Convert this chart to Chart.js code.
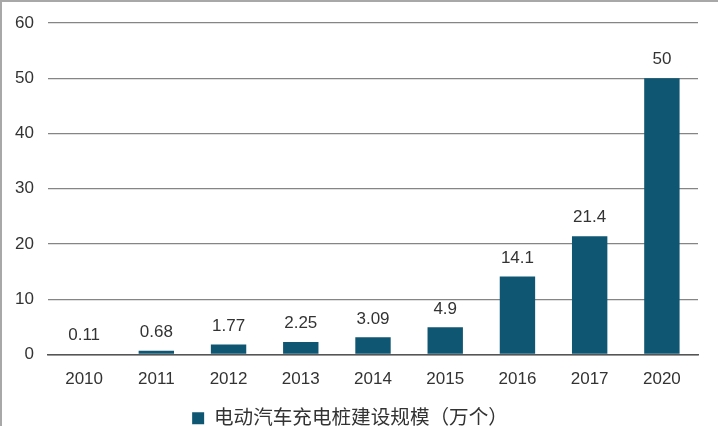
<!DOCTYPE html>
<html>
<head>
<meta charset="utf-8">
<script src="https://cdn.jsdelivr.net/npm/chart.js@4"></script>
<style>
  html, body { margin: 0; padding: 0; background: #fff; }
  #wrap { width: 716px; height: 424px; border-left: 2px solid #a8a8a8; border-top: 2px solid #a8a8a8; position: relative; }
</style>
</head>
<body>
<div id="wrap"><canvas id="chart" width="716" height="424"></canvas></div>
<script>
const years = ["2010", "2011", "2012", "2013", "2014", "2015", "2016", "2017", "2020"];
const piles = [0.11, 0.68, 1.77, 2.25, 3.09, 4.9, 14.1, 21.4, 50];
const yTicks = [0, 10, 20, 30, 40, 50, 60];
const seriesName = "电动汽车充电桩建设规模（万个）";

const fontFamily = '"Liberation Sans", "Noto Sans CJK SC", Arial, sans-serif';

// value labels above each bar
const valueLabels = {
  id: "valueLabels",
  afterDatasetsDraw(chart) {
    const ctx = chart.ctx;
    const meta = chart.getDatasetMeta(0);
    ctx.save();
    ctx.fillStyle = "#333";
    ctx.font = "17px " + fontFamily;
    ctx.textAlign = "center";
    ctx.textBaseline = "bottom";
    meta.data.forEach((bar, i) => {
      ctx.fillText(String(piles[i]), bar.x, bar.y - 10);
    });
    ctx.restore();
  }
};

new Chart(document.getElementById("chart").getContext("2d"), {
  type: "bar",
  data: {
    labels: years,
    datasets: [{
      label: seriesName,
      data: piles,
      backgroundColor: "#0f5673",
      borderWidth: 0,
      categoryPercentage: 1,
      barPercentage: 0.49,
    }],
  },
  options: {
    responsive: false,
    animation: false,
    layout: { padding: { left: 0, right: 20, top: 21, bottom: -12 } },
    scales: {
      x: {
        grid: { display: false },
        border: { display: true, color: "#555", width: 1.5 },
        ticks: { color: "#333", font: { size: 17, family: fontFamily }, padding: 7 },
        afterFit(scale) { scale.height = 52; },
      },
      y: {
        min: 0,
        max: 60,
        afterBuildTicks(scale) { scale.ticks = yTicks.map(v => ({ value: v })); },
        grid: { color: "#858585", lineWidth: 1.2, drawTicks: false },
        border: { display: false },
        ticks: { color: "#333", font: { size: 17, family: fontFamily, lineHeight: 0.6 }, padding: 14 },
        afterFit(scale) { scale.width = 46; },
      },
    },
    plugins: {
      legend: {
        position: "bottom",
        labels: {
          color: "#333",
          font: { size: 19.6, family: fontFamily },
          boxWidth: 12,
          boxHeight: 12,
          padding: 2,
        },
      },
      tooltip: { enabled: false },
    },
  },
  plugins: [valueLabels],
});
</script>
</body>
</html>
